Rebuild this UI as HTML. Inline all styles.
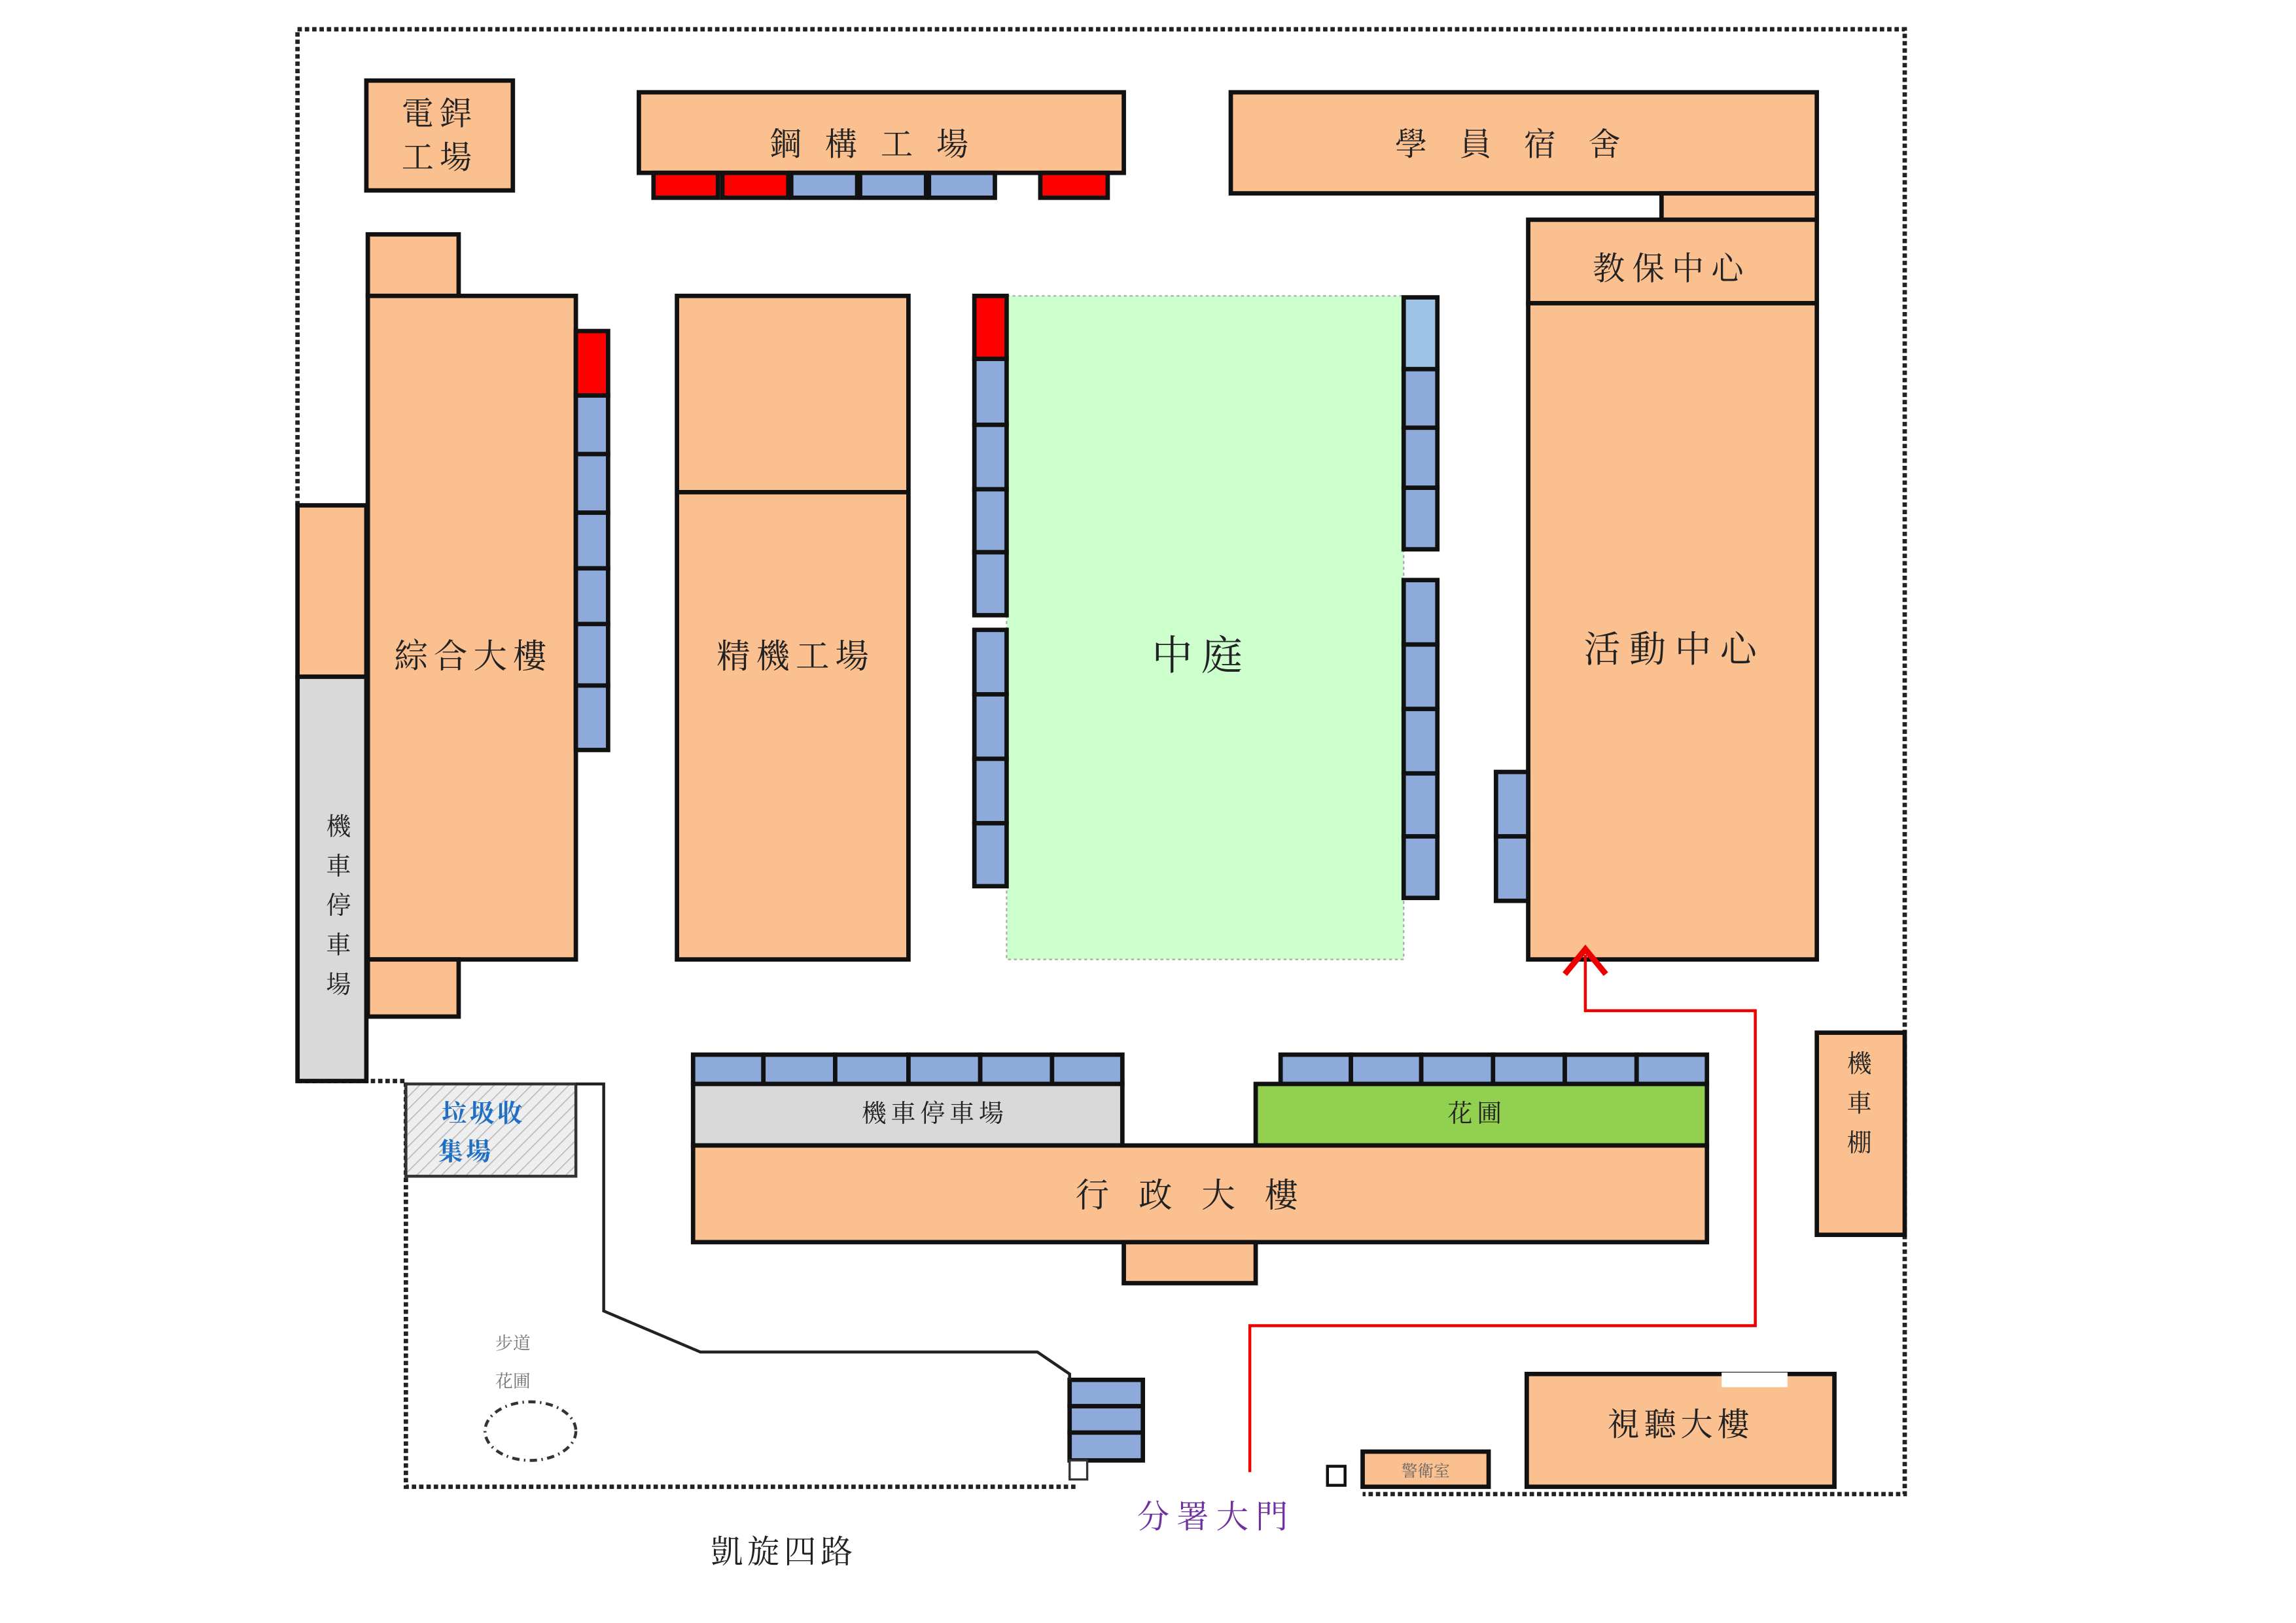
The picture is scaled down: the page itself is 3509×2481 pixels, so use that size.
<!DOCTYPE html>
<html><head><meta charset="utf-8"><style>
html,body{margin:0;padding:0;background:#fff;}
svg{display:block;}
text{font-family:"Liberation Serif","Noto Serif CJK SC","Noto Sans CJK TC",serif;fill:#222;}
</style></head><body>
<svg width="3509" height="2481" viewBox="0 0 1567 1108" xmlns="http://www.w3.org/2000/svg">
<defs>
<pattern id="hatch" width="6" height="6" patternUnits="userSpaceOnUse" patternTransform="rotate(45)">
<rect width="6" height="6" fill="#eeeeee"/><line x1="0" y1="0" x2="0" y2="6" stroke="#bbb" stroke-width="1.5"/>
</pattern>
</defs>
<g fill="none" stroke="#222" stroke-width="3" stroke-dasharray="3,2">
<path d="M203,345 V20 H1300 V1020 H930"/>
<path d="M203,738 H277 V1015 H735"/>
</g>
<g stroke="#111" stroke-width="3">
<rect x="250" y="55" width="100" height="75" fill="#fac090"/>
<rect x="436" y="63" width="331" height="55" fill="#fac090"/>
<rect x="446" y="118" width="44" height="17" fill="#ff0000"/>
<rect x="493" y="118" width="45" height="17" fill="#ff0000"/>
<rect x="540" y="118" width="45" height="17" fill="#8eaadb"/>
<rect x="587" y="118" width="45" height="17" fill="#8eaadb"/>
<rect x="634" y="118" width="45" height="17" fill="#8eaadb"/>
<rect x="710" y="118" width="46" height="17" fill="#ff0000"/>
<rect x="840" y="63" width="400" height="69" fill="#fac090"/>
<rect x="1134" y="132" width="106" height="18" fill="#fac090"/>
<rect x="1043" y="150" width="197" height="57" fill="#fac090"/>
<rect x="1043" y="207" width="197" height="448" fill="#fac090"/>
<rect x="251" y="160" width="62" height="42" fill="#fac090"/>
<rect x="251" y="202" width="142" height="453" fill="#fac090"/>
<rect x="251" y="655" width="62" height="39" fill="#fac090"/>
<rect x="203" y="345" width="47" height="117" fill="#fac090"/>
<rect x="203" y="462" width="47" height="276" fill="#d9d9d9"/>
<rect x="393" y="226" width="22" height="44" fill="#ff0000"/>
<rect x="393" y="270" width="22" height="40" fill="#8eaadb"/>
<rect x="393" y="310" width="22" height="40" fill="#8eaadb"/>
<rect x="393" y="350" width="22" height="38" fill="#8eaadb"/>
<rect x="393" y="388" width="22" height="38" fill="#8eaadb"/>
<rect x="393" y="426" width="22" height="42" fill="#8eaadb"/>
<rect x="393" y="468" width="22" height="44" fill="#8eaadb"/>
<rect x="462" y="202" width="158" height="453" fill="#fac090"/>
<line x1="462" y1="336" x2="620" y2="336"/>
</g>
<rect x="687" y="202" width="271" height="453" fill="#ccffcc" stroke="#aaa" stroke-width="1" stroke-dasharray="2,2"/>
<g stroke="#111" stroke-width="3">
<rect x="665" y="202" width="22" height="43" fill="#ff0000"/>
<rect x="665" y="245" width="22" height="45" fill="#8eaadb"/>
<rect x="665" y="290" width="22" height="44" fill="#8eaadb"/>
<rect x="665" y="334" width="22" height="43" fill="#8eaadb"/>
<rect x="665" y="377" width="22" height="43" fill="#8eaadb"/>
<rect x="665" y="430" width="22" height="44" fill="#8eaadb"/>
<rect x="665" y="474" width="22" height="44" fill="#8eaadb"/>
<rect x="665" y="518" width="22" height="44" fill="#8eaadb"/>
<rect x="665" y="562" width="22" height="43" fill="#8eaadb"/>
<rect x="958" y="203" width="23" height="49" fill="#9dc3e6"/>
<rect x="958" y="252" width="23" height="40" fill="#8eaadb"/>
<rect x="958" y="292" width="23" height="41" fill="#8eaadb"/>
<rect x="958" y="333" width="23" height="42" fill="#8eaadb"/>
<rect x="958" y="396" width="23" height="44" fill="#8eaadb"/>
<rect x="958" y="440" width="23" height="44" fill="#8eaadb"/>
<rect x="958" y="484" width="23" height="44" fill="#8eaadb"/>
<rect x="958" y="528" width="23" height="43" fill="#8eaadb"/>
<rect x="958" y="571" width="23" height="42" fill="#8eaadb"/>
<rect x="1021" y="527" width="22" height="44" fill="#8eaadb"/>
<rect x="1021" y="571" width="22" height="44" fill="#8eaadb"/>
<rect x="473" y="720" width="48" height="20" fill="#8eaadb"/>
<rect x="521" y="720" width="49" height="20" fill="#8eaadb"/>
<rect x="570" y="720" width="50" height="20" fill="#8eaadb"/>
<rect x="620" y="720" width="49" height="20" fill="#8eaadb"/>
<rect x="669" y="720" width="49" height="20" fill="#8eaadb"/>
<rect x="718" y="720" width="48" height="20" fill="#8eaadb"/>
<rect x="473" y="740" width="293" height="42" fill="#d9d9d9"/>
<rect x="874" y="720" width="48" height="20" fill="#8eaadb"/>
<rect x="922" y="720" width="48" height="20" fill="#8eaadb"/>
<rect x="970" y="720" width="49" height="20" fill="#8eaadb"/>
<rect x="1019" y="720" width="49" height="20" fill="#8eaadb"/>
<rect x="1068" y="720" width="49" height="20" fill="#8eaadb"/>
<rect x="1117" y="720" width="48" height="20" fill="#8eaadb"/>
<rect x="857" y="740" width="308" height="42" fill="#92d050"/>
<rect x="473" y="782" width="692" height="66" fill="#fac090"/>
<rect x="767" y="848" width="90" height="28" fill="#fac090"/>
<rect x="1240" y="705" width="60" height="138" fill="#fac090"/>
<rect x="730" y="942" width="50" height="18" fill="#8eaadb"/>
<rect x="730" y="960" width="50" height="18" fill="#8eaadb"/>
<rect x="730" y="978" width="50" height="19" fill="#8eaadb"/>
<rect x="1042" y="938" width="210" height="77" fill="#fac090"/>
<rect x="930" y="991" width="86" height="24" fill="#fac090"/>
</g>
<rect x="1175" y="937" width="45" height="10" fill="#fff"/>
<rect x="277" y="740" width="116" height="63" fill="url(#hatch)" stroke="#333" stroke-width="2"/>
<rect x="730" y="997" width="12" height="13" fill="#fff" stroke="#333" stroke-width="1.5"/>
<rect x="906" y="1001" width="12" height="13" fill="#fff" stroke="#111" stroke-width="2"/>
<path d="M393,740 H412 V895 L478,923 H708 L730,938 V942" fill="none" stroke="#222" stroke-width="2"/>
<ellipse cx="362" cy="977" rx="31" ry="20" fill="none" stroke="#333" stroke-width="2" stroke-dasharray="5,3,1,3"/>
<path d="M853,1005 V905 H1198 V690 H1082 V652" fill="none" stroke="#e00" stroke-width="2"/>
<path d="M1068,665 L1082,648 L1096,665" fill="none" stroke="#e00" stroke-width="4"/>
<text x="300" y="85" font-size="22" text-anchor="middle" letter-spacing="4">電銲</text>
<text x="300" y="115" font-size="22" text-anchor="middle" letter-spacing="4">工場</text>
<text x="601" y="106" font-size="22" text-anchor="middle" letter-spacing="16">鋼構工場</text>
<text x="1040" y="106" font-size="22" text-anchor="middle" letter-spacing="22">學員宿舍</text>
<text x="1141" y="191" font-size="22" text-anchor="middle" letter-spacing="5">教保中心</text>
<text x="1143" y="452" font-size="25" text-anchor="middle" letter-spacing="6">活動中心</text>
<text x="323" y="456" font-size="23" text-anchor="middle" letter-spacing="4">綜合大樓</text>
<text x="543" y="456" font-size="23" text-anchor="middle" letter-spacing="4">精機工場</text>
<text x="820" y="457" font-size="28" text-anchor="middle" letter-spacing="6">中庭</text>
<g font-size="17" text-anchor="middle">
<text x="231" y="570">機</text><text x="231" y="597">車</text><text x="231" y="624">停</text><text x="231" y="651">車</text><text x="231" y="678">場</text>
<text x="1269" y="732">機</text><text x="1269" y="759">車</text><text x="1269" y="786">棚</text>
</g>
<text x="638" y="766" font-size="17" text-anchor="middle" letter-spacing="3">機車停車場</text>
<text x="1008" y="766" font-size="17" text-anchor="middle" letter-spacing="3">花圃</text>
<text x="820" y="824" font-size="23" text-anchor="middle" letter-spacing="20">行政大樓</text>
<text x="330" y="766" font-size="17" font-weight="bold" style="fill:#1f6fc5" letter-spacing="2" text-anchor="middle">垃圾收</text>
<text x="318" y="792" font-size="17" font-weight="bold" style="fill:#1f6fc5" letter-spacing="2" text-anchor="middle">集場</text>
<text x="350" y="921" font-size="12" style="fill:#777" text-anchor="middle">步道</text>
<text x="350" y="947" font-size="12" style="fill:#777" text-anchor="middle">花圃</text>
<text x="1147" y="980" font-size="22" text-anchor="middle" letter-spacing="3">視聽大樓</text>
<text x="973" y="1008" font-size="11" text-anchor="middle" style="fill:#666">警衛室</text>
<text x="830" y="1043" font-size="22" text-anchor="middle" letter-spacing="5" style="fill:#7030a0">分署大門</text>
<text x="535" y="1067" font-size="22" text-anchor="middle" letter-spacing="3">凱旋四路</text>
</svg>
</body></html>
